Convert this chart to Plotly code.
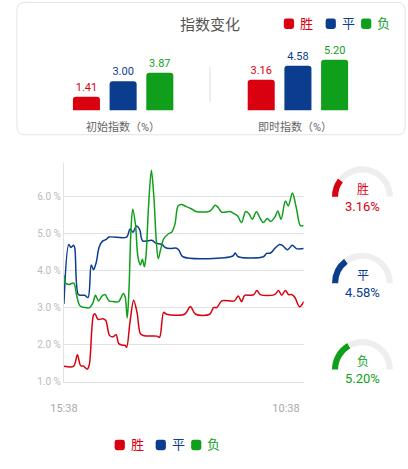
import pandas as pd
import plotly.graph_objects as go

W, H = 408, 469

# series
names = ["胜", "平", "负"]
colors = ["#d9000f", "#0b3d8f", "#0f9f1b"]
initial_index = [1.41, 3.00, 3.87]
current_index = [3.16, 4.58, 5.20]
group_labels = ["初始指数（%）", "即时指数（%）"]

# history (minutes after start, value in %)
start_time = "2024-05-01 15:38"
tick_labels = ["15:38", "10:38"]

win_min = [0, 50, 69, 86, 101, 120, 130, 152, 160, 175, 200, 215, 234, 251, 268,
           281, 297, 314, 322, 339, 358, 376, 393, 413, 477, 491, 512, 527, 620,
           649, 676, 749, 768, 785, 810, 875, 895, 912, 928, 958, 975, 991, 1008,
           1082, 1102, 1118, 1137, 1153, 1170, 1186, 1210, 1231]
win_val = [1.42, 1.42, 1.73, 1.43, 1.42, 1.34, 1.45, 2.80, 2.83, 2.68, 2.70, 2.65,
           2.25, 2.21, 2.27, 2.03, 1.99, 1.98, 1.93, 2.60, 3.20, 2.85, 2.29, 2.24,
           2.23, 2.20, 2.87, 2.82, 2.82, 3.03, 2.82, 2.82, 3.00, 3.00, 3.18, 3.18,
           3.31, 3.16, 3.33, 3.33, 3.35, 3.46, 3.35, 3.35, 3.46, 3.33, 3.46, 3.35,
           3.35, 3.27, 3.02, 3.16]

draw_min = [0, 25, 36, 50, 56, 74, 91, 107, 124, 140, 152, 165, 181, 198, 215, 231,
            322, 339, 355, 372, 389, 404, 454, 471, 487, 504, 520, 545, 578, 590,
            611, 867, 879, 895, 1024, 1041, 1061, 1082, 1107, 1123, 1148, 1173,
            1193, 1231]
draw_val = [3.10, 4.70, 4.62, 4.68, 4.60, 3.35, 3.33, 3.33, 3.27, 4.15, 4.02, 4.20,
            4.63, 4.79, 4.83, 4.90, 4.90, 5.12, 5.03, 5.20, 5.10, 4.80, 4.81, 4.74,
            4.72, 4.70, 4.62, 4.59, 4.60, 4.55, 4.37, 4.39, 4.47, 4.37, 4.37, 4.46,
            4.47, 4.59, 4.70, 4.67, 4.56, 4.68, 4.59, 4.59]

lose_min = [0, 8, 25, 50, 66, 82, 107, 132, 149, 162, 178, 195, 211, 231, 256, 281,
            305, 314, 325, 334, 344, 353, 367, 380, 393, 403, 413, 421, 434, 449,
            462, 474, 484, 496, 512, 537, 553, 570, 586, 603, 628, 652, 677, 744,
            760, 776, 793, 810, 851, 875, 892, 912, 933, 950, 967, 988, 1008, 1024,
            1044, 1061, 1082, 1098, 1115, 1137, 1152, 1173, 1193, 1214, 1231]
lose_val = [3.87, 3.66, 3.62, 3.66, 3.31, 3.05, 3.00, 3.00, 3.13, 3.33, 3.18, 3.31,
            3.35, 3.18, 3.16, 3.16, 3.38, 3.30, 2.72, 3.49, 5.07, 5.65, 5.25, 4.37,
            4.15, 4.30, 4.10, 4.37, 5.69, 6.70, 5.96, 4.81, 4.32, 4.55, 4.85, 4.99,
            5.03, 5.25, 5.74, 5.78, 5.72, 5.67, 5.59, 5.59, 5.65, 5.76, 5.69, 5.57,
            5.59, 5.53, 5.47, 5.29, 5.59, 5.53, 5.38, 5.58, 5.40, 5.29, 5.40, 5.32,
            5.43, 5.60, 5.38, 5.87, 5.74, 6.09, 5.69, 5.21, 5.21]

gauge_max = 15.5


def fx(x):
    return x / W


def fy(y):
    return 1 - y / H


def rounded_path(x0, y0, x1, y1, r):
    # rounded rectangle in pixels -> paper path
    pts = [
        f"M{fx(x0 + r)},{fy(y0)}", f"L{fx(x1 - r)},{fy(y0)}",
        f"Q{fx(x1)},{fy(y0)} {fx(x1)},{fy(y0 + r)}", f"L{fx(x1)},{fy(y1 - r)}",
        f"Q{fx(x1)},{fy(y1)} {fx(x1 - r)},{fy(y1)}", f"L{fx(x0 + r)},{fy(y1)}",
        f"Q{fx(x0)},{fy(y1)} {fx(x0)},{fy(y1 - r)}", f"L{fx(x0)},{fy(y0 + r)}",
        f"Q{fx(x0)},{fy(y0)} {fx(x0 + r)},{fy(y0)}", "Z",
    ]
    return " ".join(pts)


def note(text, x, y, size, color):
    return dict(text=text, x=fx(x), y=fy(y), xref="paper", yref="paper",
                xanchor="center", yanchor="middle", showarrow=False,
                font=dict(size=size, color=color))


base = pd.Timestamp(start_time)


def to_time(minutes):
    return base + pd.to_timedelta(minutes, unit="min")


tick_vals = []
for lab in tick_labels:
    h, m = map(int, lab.split(":"))
    t = base.normalize() + pd.Timedelta(hours=h, minutes=m)
    if t < base:
        t += pd.Timedelta(days=1)
    tick_vals.append(t)

fig = go.Figure()

# bar groups
for i, vals in enumerate([initial_index, current_index]):
    ax = "" if i == 0 else "2"
    fig.add_trace(go.Bar(
        x=names, y=vals, xaxis="x" + ax, yaxis="y" + ax,
        marker=dict(color=colors, cornerradius=3, line_width=0),
        text=[f"{v:.2f}" for v in vals], textposition="outside",
        textfont=dict(color=colors, size=11), cliponaxis=False,
        showlegend=False, hoverinfo="skip",
    ))

# history lines
series = [(win_min, win_val), (draw_min, draw_val), (lose_min, lose_val)]
for (mins, vals), name, col in zip(series, names, colors):
    fig.add_trace(go.Scatter(
        x=to_time(mins), y=vals, xaxis="x3", yaxis="y3", name=name,
        mode="lines", line=dict(color=col, width=1.5, shape="spline", smoothing=0.9),
        showlegend=False,
    ))

# gauges
gauge_cy = [199.3, 286.8, 374.3]
gr = 31.5
for name, col, v, cy in zip(names, colors, current_index, gauge_cy):
    fig.add_trace(go.Pie(
        values=[v, gauge_max - v, gauge_max], sort=False, direction="clockwise",
        rotation=270, hole=0.8, textinfo="none", hoverinfo="skip", showlegend=False,
        marker=dict(colors=[col, "#eeeeee", "rgba(0,0,0,0)"], line=dict(width=0)),
        domain=dict(x=[fx(360.8 - gr), fx(360.8 + gr)], y=[fy(cy + gr), fy(cy - gr)]),
    ))

annotations = []
shapes = []

# card
shapes.append(dict(type="path", xref="paper", yref="paper",
                   path=rounded_path(3, 2.5, 405, 136.5, 8),
                   line=dict(color="#e3e3e3", width=1), layer="below"))
shapes.append(dict(type="line", xref="paper", yref="paper",
                   x0=fx(203), x1=fx(203), y0=fy(68), y1=fy(103),
                   line=dict(color="#dddddd", width=1)))

annotations.append(note("指数变化", 203, 25, 15, "#555555"))

for lab, cx in zip(group_labels, [113, 291]):
    annotations.append(note(lab, cx, 129, 11, "#666666"))

# legends (top and bottom)
for centers, cyl in [([284.7, 328, 364.7], 24), ([109.5, 152, 188.7], 450.7)]:
    for cx, name, col in zip(centers, names, colors):
        s = 5.3
        shapes.append(dict(type="path", xref="paper", yref="paper",
                           path=rounded_path(cx - s, cyl - s, cx + s, cyl + s, 2.5),
                           fillcolor=col, line=dict(width=0)))
        annotations.append(note(name, cx + 18, cyl, 13, col))

# gauge texts
for name, col, v, cy in zip(names, colors, current_index, gauge_cy):
    annotations.append(note(name, 361, cy - 7.5, 12, col))
    annotations.append(note(f"{v:.2f}%", 361, cy + 9.5, 13, col))

bar_y = dict(domain=[fy(112), fy(112 - 69.3)], range=[0, 7], visible=False)
all_times = to_time(win_min + draw_min + lose_min)

fig.update_layout(
    width=W, height=H,
    margin=dict(l=0, r=0, t=0, b=0),
    paper_bgcolor="white", plot_bgcolor="white",
    font=dict(family="Roboto, 'Noto Sans CJK SC', sans-serif"),
    barmode="overlay", bargap=0.263, showlegend=False,
    xaxis=dict(domain=[fx(56), fx(170)], visible=False, fixedrange=True),
    yaxis=bar_y,
    xaxis2=dict(domain=[fx(237), fx(351)], visible=False, fixedrange=True),
    yaxis2=dict(bar_y, anchor="x2"),
    xaxis3=dict(domain=[fx(51.7), fx(300)], anchor="y3", type="date",
                range=[all_times.min(), all_times.max()],
                tickvals=tick_vals, ticktext=tick_labels, ticklabelstandoff=16,
                showgrid=False, showline=True, linecolor="#e0e0e0", zeroline=False,
                tickfont=dict(size=11, color="#aaaaaa")),
    yaxis3=dict(domain=[fy(386.7), fy(165)], anchor="x3", range=[1, 6.9], dtick=1,
                tick0=1, tickformat=".1f", ticksuffix=" %",
                showgrid=True, gridcolor="#e2e2e2", showline=True, linecolor="#e2e2e2",
                zeroline=False, tickfont=dict(size=10, color="#bbbbbb")),
    shapes=shapes, annotations=annotations,
)

page_css = ("var s=document.createElement('style');"
            "s.innerHTML='html,body{margin:0;padding:0;overflow:hidden;"
            "width:408px;height:469px}';document.head.appendChild(s);")
fig.write_html("out.html", config={"displayModeBar": False}, post_script=page_css)
